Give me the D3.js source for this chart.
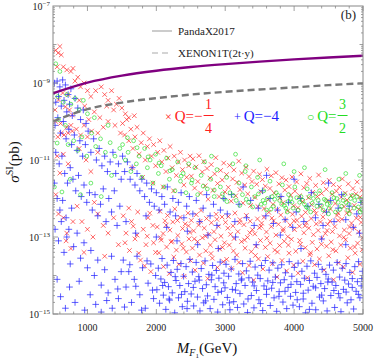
<!DOCTYPE html>
<html><head><meta charset="utf-8">
<script src="https://cdn.jsdelivr.net/npm/d3@7"></script>
<style>body{margin:0;background:#fff}svg{display:block}text{font-family:"Liberation Serif","DejaVu Serif",serif}</style>
</head><body><div id="chart"></div>
<script>
// ---------------- data ----------------
const xTicks = [1000,2000,3000,4000,5000];
const yTickExps = [-7,-9,-11,-13,-15];
const pandaMass  = [500,1000,1500,2000,2500,3000,3500,4000,4500,5000];
const pandaSigma = [5.4e-10,1.02e-9,1.55e-9,2.08e-9,2.6e-9,3.1e-9,3.6e-9,4.1e-9,4.6e-9,5.1e-9];
const xenonMass  = [500,1000,1500,2000,2500,3000,3500,4000,4500,5000];
const xenonSigma = [1.0e-10,2.1e-10,3.1e-10,4.05e-10,5.0e-10,5.9e-10,6.8e-10,7.7e-10,8.8e-10,9.8e-10];
const legendLabels = ["PandaX2017","XENON1T(2t·y)"];
// [mass GeV, log10 sigma(pb)]
const redPts = [
[540,-8.15],[575,-8.22],[620,-8.27],[600,-8.05],[650,-8.58],[700,-8.66],[760,-8.7],[790,-8.62],[820,-8.95],[860,-8.85],[560,-8.58],[640,-9.26],[580,-9.44],[530,-9.7],[680,-9.62],[740,-9.7],[780,-9.83],[720,-9.3],[900,-9.1],[950,-9.0],[1000,-9.2],[880,-9.45],[960,-9.6],[1050,-9.35],[1120,-9.2],[1200,-9.1],[1250,-9.3],[1300,-9.45],[1350,-9.2],[1420,-9.55],[1280,-9.6],[1380,-9.7],[1460,-9.4],[1500,-9.65],[1550,-9.8],[1600,-9.9],[1680,-9.85],[1100,-9.75],[1180,-9.9],[1020,-9.95],
[570,-10.4],[620,-10.3],[660,-10.35],[720,-10.3],[780,-10.25],[700,-10.15],[760,-10.1],[840,-10.2],[900,-10.35],[540,-10.0],[610,-10.05],[950,-10.1],[1000,-10.4],[1060,-10.25],[1150,-10.3],[1230,-10.15],[1300,-10.0],[1400,-10.1],[1480,-10.3],
[560,-10.9],[650,-10.85],[600,-11.34],[720,-11.1],[880,-10.7],[980,-11.0],[1050,-11.3],[1150,-10.8],
[580,-12.4],[650,-12.5],[790,-12.6],[700,-12.9],[760,-13.3],[690,-13.1],[540,-11.9],[850,-12.2],[920,-12.6],[1000,-12.8],[1080,-13.0],[1150,-12.4],[1230,-12.7],[1300,-12.9],[1380,-12.5],[1450,-13.2],[950,-13.4],[1250,-13.5],[1100,-12.1],
[1510,-10.05],[1540,-10.35],[1570,-9.95],[1600,-10.5],[1630,-10.2],[1660,-10.7],[1690,-10.4],[1720,-10.15],[1750,-10.85],[1780,-10.55],[1810,-10.3],[1840,-11.0],[1870,-10.65],[1900,-10.45],[1930,-10.9],[1960,-10.6],[1990,-11.15],[2020,-10.8],[2050,-10.5],[2080,-11.05],[2110,-10.75],[2140,-11.3],[2170,-10.95],[2200,-10.65],[2230,-11.2],[2260,-10.9],[2290,-11.4],[2320,-11.05],[2350,-10.8],[2380,-11.25],[2410,-11.0],[2440,-11.45],[2470,-11.15],[2490,-10.9],[1650,-11.2],[1800,-11.45],[1950,-11.6],[2100,-11.7],[2250,-11.8],[2400,-11.65],
[2508,-11.42],[2531,-10.97],[2556,-11.73],[2577,-11.18],[2602,-11.56],[2619,-10.89],[2643,-11.86],[2667,-11.31],[2688,-11.04],[2709,-11.67],[2736,-11.22],[2752,-12.02],[2778,-11.47],[2797,-11.12],[2821,-11.79],[2846,-11.36],[2863,-10.94],[2889,-11.61],[2911,-11.95],[2934,-11.27],[2956,-11.52],[2978,-11.08],[2997,-11.83],
[3019,-11.38],[3044,-11.71],[3062,-11.14],[3087,-12.07],[3108,-11.49],[3126,-11.26],[3153,-11.93],[3171,-11.58],[3196,-11.03],[3214,-11.77],[3239,-11.34],[3258,-12.12],[3283,-11.65],[3301,-11.19],[3327,-11.88],[3345,-11.43],[3369,-12.18],[3388,-11.56],[3412,-11.29],[3431,-11.97],[3457,-11.63],[3474,-12.21],[3498,-11.37],
[3517,-11.82],[3539,-11.51],[3564,-12.26],[3582,-11.68],[3606,-11.24],[3625,-12.03],[3649,-11.74],[3668,-11.41],[3693,-12.15],[3711,-11.86],[3736,-11.33],[3754,-12.29],[3779,-11.62],[3797,-11.99],[3822,-11.46],[3840,-12.11],[3865,-11.78],[3883,-11.52],[3908,-12.32],[3926,-11.69],[3951,-11.91],[3969,-11.44],[3994,-12.19],
[4012,-11.81],[4037,-11.57],[4055,-12.24],[4080,-11.93],[4098,-11.36],[4123,-12.08],[4141,-11.72],[4166,-12.36],[4184,-11.61],[4209,-11.98],[4227,-11.48],[4252,-12.16],[4270,-11.84],[4295,-12.31],[4313,-11.66],[4338,-11.95],[4356,-11.39],[4381,-12.22],[4399,-11.87],[4424,-11.59],[4442,-12.34],[4467,-11.76],[4485,-12.06],
[4510,-11.53],[4528,-12.27],[4553,-11.89],[4571,-11.64],[4596,-12.13],[4614,-11.81],[4639,-12.38],[4657,-11.71],[4682,-11.97],[4700,-11.49],[4725,-12.21],[4743,-11.86],[4768,-12.04],[4786,-11.62],[4811,-12.33],[4829,-11.93],[4854,-11.74],[4872,-12.18],[4897,-11.88],[4915,-11.57],[4940,-12.28],[4958,-11.96],[4983,-11.79],[4996,-12.11],
[1520,-12.45],[1560,-12.9],[1610,-13.35],[1640,-12.6],[1690,-13.05],[1730,-12.35],[1770,-13.6],[1810,-12.8],[1850,-13.2],[1880,-12.5],[1920,-13.9],[1950,-12.7],[1990,-13.4],[1600,-12.25],[1720,-12.95],[1830,-13.75],[1960,-13.15],
[1545,-13.15],[1665,-12.72],[1745,-13.42],[1868,-12.98],[1905,-12.38],
[2013,-12.74],[2037,-13.41],[2052,-12.33],[2071,-13.08],[2098,-12.91],[2104,-13.77],[2126,-12.58],[2149,-13.26],[2163,-12.44],[2188,-13.95],[2197,-12.82],[2215,-13.13],[2239,-12.61],[2254,-13.52],[2268,-12.27],[2291,-13.34],[2312,-12.96],[2327,-13.71],[2345,-12.49],[2369,-13.18],[2381,-12.78],[2402,-14.02],[2418,-12.66],[2436,-13.39],[2459,-12.38],[2473,-13.05],[2488,-12.88],[2496,-13.61],
[2507,-12.57],[2524,-13.29],[2541,-12.84],[2563,-13.86],[2579,-12.42],[2598,-13.12],[2614,-12.69],[2627,-13.47],[2649,-12.31],[2668,-13.02],[2683,-13.68],[2696,-12.77],[2718,-13.36],[2729,-12.52],[2747,-14.08],[2761,-12.93],[2784,-13.21],[2799,-12.63],[2813,-13.55],[2836,-12.86],[2852,-13.07],[2868,-12.41],[2887,-13.79],[2901,-12.72],[2919,-13.31],[2938,-12.98],[2954,-12.48],[2973,-13.64],[2989,-13.15],
[3004,-12.62],[3021,-13.58],[3046,-12.47],[3059,-13.21],[3077,-12.93],[3093,-13.82],[3112,-12.71],[3128,-13.04],[3141,-12.38],[3167,-13.47],[3183,-12.86],[3199,-13.66],[3214,-12.55],[3236,-13.12],[3251,-13.93],[3272,-12.68],[3288,-13.29],[3307,-12.44],[3323,-13.01],[3345,-13.74],[3362,-12.59],[3378,-13.38],[3394,-12.81],[3413,-14.12],[3429,-12.92],[3446,-13.24],[3468,-12.53],[3482,-13.57],[3497,-12.76],
[3511,-13.09],[3528,-12.64],[3547,-13.83],[3562,-12.49],[3583,-13.27],[3598,-12.87],[3617,-13.51],[3633,-12.36],[3652,-13.16],[3669,-12.73],[3684,-13.69],[3702,-12.58],[3719,-13.34],[3736,-12.95],[3751,-14.04],[3773,-12.67],[3789,-13.22],[3806,-12.43],[3824,-13.61],[3839,-12.84],[3857,-13.11],[3874,-12.56],[3891,-13.88],[3908,-12.99],[3926,-13.42],[3942,-12.69],[3961,-13.06],[3977,-12.41],[3993,-13.73],
[4006,-12.81],[4024,-13.37],[4041,-12.57],[4058,-13.94],[4076,-12.72],[4092,-13.19],[4109,-12.46],[4127,-13.63],[4143,-12.89],[4162,-13.28],[4178,-12.63],[4194,-14.06],[4213,-12.77],[4229,-13.46],[4247,-12.52],[4263,-13.14],[4281,-12.94],[4297,-13.72],[4316,-12.39],[4332,-13.31],[4349,-12.83],[4367,-13.57],[4384,-12.61],[4401,-13.03],[4418,-12.48],[4436,-13.86],[4453,-12.91],[4471,-13.24],[4488,-12.67],
[4503,-13.49],[4521,-12.59],[4538,-13.13],[4556,-12.86],[4573,-14.11],[4591,-12.73],[4607,-13.36],[4624,-12.44],[4642,-13.67],[4659,-12.97],[4677,-13.21],[4694,-12.54],[4712,-13.78],[4729,-12.82],[4747,-13.07],[4763,-12.38],[4781,-13.54],[4798,-12.91],[4816,-13.29],[4833,-12.64],[4851,-13.92],[4868,-12.76],[4886,-13.42],[4903,-12.51],[4921,-13.16],[4938,-12.87],[4956,-13.71],[4973,-12.62],[4989,-13.33],
[2061,-13.02],[2143,-12.69],[2226,-13.11],[2307,-12.57],[2392,-13.29],[2467,-12.71],[2551,-13.05],[2636,-12.59],[2712,-12.98],[2793,-13.43],[2879,-12.54],[2961,-13.27],[3038,-12.77],[3119,-13.36],[3206,-12.63],[3281,-13.08],[3357,-12.89],[3438,-13.48],[3521,-12.72],[3604,-13.03],[3677,-12.51],[3759,-13.39],[3843,-12.79],[3917,-13.21],[3998,-12.58],[4081,-13.09],[4158,-12.71],[4239,-13.41],[4321,-12.66],[4396,-13.19],[4479,-12.83],[4562,-13.33],[4639,-12.57],[4721,-13.01],[4804,-12.74],[4879,-13.26],[4961,-12.49],[4995,-13.02]
];
const bluePts = [
[520,-9.0],[560,-8.95],[600,-9.1],[640,-8.92],[680,-9.05],[720,-9.3],[760,-9.15],[540,-9.5],[580,-9.35],[620,-9.6],[660,-9.45],[700,-9.75],[740,-9.55],[780,-9.85],[820,-9.4],[860,-9.65],[900,-9.95],[940,-9.7],[980,-10.05],[530,-10.1],[570,-9.9],[610,-10.3],[650,-10.0],[690,-10.45],[730,-10.2],[770,-10.6],[810,-10.35],[850,-10.75],[890,-10.5],[930,-10.9],[970,-10.6],[1010,-10.25],[1050,-10.8],[1090,-10.45],[1130,-11.0],[1170,-10.7],[1210,-11.15],[1250,-10.9],[1290,-11.3],[1330,-11.05],[1370,-10.8],[1410,-11.35],[1450,-11.1],[1490,-11.5],
[540,-10.8],[590,-11.1],[630,-10.9],[670,-11.35],[710,-11.6],[750,-11.2],[790,-11.5],[830,-11.8],[870,-11.4],[910,-11.95],[950,-11.65],[990,-12.1],[1030,-11.85],[1070,-12.3],[1110,-11.9],[1150,-12.45],[1190,-12.15],[1230,-11.75],[1270,-12.6],[1310,-12.0],[1350,-12.35],[1390,-11.8],[1430,-12.7],[1470,-12.2],
[520,-11.6],[560,-12.0],[600,-12.3],[640,-12.05],[690,-12.5],[730,-12.8],[770,-12.25],[530,-12.8],[580,-13.1],[620,-12.6],[660,-13.4],[700,-13.0],[750,-13.7],[800,-13.25],[850,-12.9],[900,-13.55],[950,-13.15],[1000,-13.8],[1050,-13.35],[1100,-14.0],[1150,-13.6],[1200,-14.25],[1250,-13.85],[1300,-14.45],[1350,-13.5],[1400,-14.1],[1450,-14.6],[1490,-13.9],[560,-14.1],[610,-14.55],[680,-14.85],[740,-14.3],[820,-14.7],[880,-14.15],[960,-14.9],[1040,-14.5],[1120,-14.75],[1200,-14.95],[1280,-14.65],[1360,-14.85],[1440,-14.35],
[1510,-10.9],[1540,-11.3],[1580,-11.05],[1620,-11.5],[1650,-11.2],[1690,-11.65],[1720,-11.35],[1760,-11.8],[1790,-11.5],[1830,-11.95],[1860,-11.6],[1900,-12.1],[1930,-11.75],[1970,-12.2],[2000,-11.85],[2040,-12.3],[2080,-11.95],[2120,-12.15],[2160,-11.7],[2200,-12.35],[2240,-12.0],[2280,-12.45],[2320,-12.1],[2360,-11.85],[2400,-12.5],[2440,-12.2],[2480,-11.95],[2530,-12.4],[2580,-12.05],[2630,-12.6],[2680,-12.25],[2730,-11.9],[2780,-12.45],[2830,-12.15],[2880,-12.7],[2930,-12.3],[2980,-12.0],
[1560,-12.6],[1700,-12.9],[1850,-12.45],[2000,-13.0],[2150,-12.75],[2300,-13.1],[2450,-12.85],[2600,-13.2],[2750,-12.95],[2900,-13.3],
[3030,-12.4],[3090,-11.9],[3140,-12.6],[3200,-12.15],[3260,-11.7],[3310,-12.5],[3370,-12.05],[3420,-12.7],[3480,-12.25],[3540,-11.8],[3590,-12.45],[3650,-12.0],[3700,-12.65],[3760,-12.3],[3810,-11.95],[3870,-12.55],[3920,-12.1],[3980,-12.75],[4030,-12.35],[4090,-12.0],[4140,-12.6],[4200,-12.2],[4250,-11.85],[4310,-12.5],[4360,-12.15],[4420,-12.7],[4470,-12.35],[4530,-12.05],[4580,-12.6],[4640,-12.25],[4690,-11.9],[4750,-12.55],[4800,-12.2],[4860,-12.75],[4910,-12.4],[4970,-12.1],
[3150,-13.0],[3450,-13.2],[3800,-12.95],[4100,-13.3],[4400,-13.05],[4750,-13.2],[4950,-12.9],[3600,-11.4],[4000,-11.5],[4500,-11.6],
[1520,-13.6],[1560,-14.3],[1600,-13.9],[1640,-14.7],[1680,-14.1],[1720,-13.5],[1760,-14.5],[1800,-13.8],[1840,-14.85],[1880,-14.2],[1920,-13.7],[1960,-14.6],[1990,-14.0],
[1538,-14.82],[1615,-13.72],[1702,-14.28],[1785,-14.9],[1865,-13.62],[1945,-14.38],
[2008,-14.37],[2029,-13.81],[2047,-14.72],[2066,-14.09],[2083,-13.56],[2102,-14.51],[2121,-14.18],[2138,-14.88],[2157,-13.73],[2176,-14.29],[2193,-14.64],[2212,-13.92],[2231,-14.45],[2248,-13.61],[2267,-14.97],[2286,-14.13],[2303,-13.84],[2322,-14.58],[2341,-14.26],[2358,-13.69],[2377,-14.81],[2396,-14.02],[2413,-14.42],[2432,-13.77],[2451,-14.67],[2468,-14.21],[2487,-13.58],
[2506,-14.48],[2523,-13.91],[2542,-14.79],[2561,-14.15],[2578,-13.66],[2597,-14.56],[2616,-14.03],[2633,-14.92],[2652,-13.82],[2671,-14.34],[2688,-14.71],[2707,-13.62],[2726,-14.24],[2743,-14.53],[2762,-13.97],[2781,-14.86],[2798,-14.11],[2817,-13.74],[2836,-14.62],[2853,-14.29],[2872,-13.87],[2891,-14.95],[2908,-14.07],[2927,-13.65],[2946,-14.41],[2963,-14.76],[2982,-13.94],[2997,-14.32],
[3012,-13.71],[3031,-14.57],[3049,-14.02],[3068,-14.89],[3087,-13.83],[3104,-14.36],[3123,-14.68],[3142,-13.58],[3159,-14.21],[3178,-14.83],[3197,-13.96],[3214,-14.47],[3233,-14.12],[3252,-13.69],[3269,-14.74],[3288,-14.26],[3307,-13.88],[3324,-14.96],[3343,-14.06],[3362,-13.63],[3379,-14.52],[3398,-14.17],[3417,-14.84],[3434,-13.78],[3453,-14.39],[3472,-13.99],[3489,-14.63],
[3508,-14.08],[3527,-13.74],[3544,-14.91],[3563,-14.27],[3582,-13.61],[3599,-14.49],[3618,-14.14],[3637,-13.86],[3654,-14.78],[3673,-14.33],[3692,-13.67],[3709,-14.58],[3728,-14.04],[3747,-14.93],[3764,-13.81],[3783,-14.42],[3802,-14.19],[3819,-13.72],[3838,-14.69],[3857,-14.11],[3874,-13.93],[3893,-14.86],[3912,-14.31],[3929,-13.64],[3948,-14.54],[3967,-14.02],[3984,-14.77],
[4003,-13.79],[4022,-14.44],[4039,-14.16],[4058,-13.68],[4077,-14.81],[4094,-14.23],[4113,-13.89],[4132,-14.61],[4149,-14.07],[4168,-14.97],[4187,-13.76],[4204,-14.38],[4223,-14.13],[4242,-13.62],[4259,-14.72],[4278,-14.28],[4297,-13.94],[4314,-14.89],[4333,-14.05],[4352,-13.71],[4369,-14.56],[4388,-14.21],[4407,-13.84],[4424,-14.66],[4443,-14.34],[4462,-13.97],[4479,-14.92],[4496,-14.09],
[4514,-13.73],[4533,-14.52],[4551,-14.17],[4570,-13.86],[4589,-14.83],[4606,-14.26],[4625,-13.66],[4644,-14.47],[4661,-14.04],[4680,-14.94],[4699,-13.81],[4716,-14.36],[4735,-14.12],[4754,-13.69],[4771,-14.71],[4790,-14.22],[4809,-13.92],[4826,-14.63],[4845,-14.08],[4864,-14.87],[4881,-13.77],[4900,-14.41],[4919,-14.16],[4936,-13.64],[4955,-14.58],[4974,-14.27],[4991,-13.89],
[2092,-14.26],[2185,-14.61],[2274,-14.03],[2365,-14.49],[2446,-14.86],[2537,-14.31],[2623,-14.12],[2715,-14.66],[2806,-13.99],[2894,-14.44],[2978,-14.19],[3061,-14.71],[3150,-14.38],[3240,-14.09],[3331,-14.61],[3420,-14.27],[3511,-14.73],[3600,-14.36],[3690,-14.18],[3780,-14.54],[3868,-14.41],[3955,-14.23],[4045,-14.63],[4133,-14.46],[4222,-14.88],[4312,-14.32],[4400,-14.51],[4489,-14.17],[4577,-14.39],[4666,-14.58],[4755,-14.43],[4844,-14.31],[4933,-14.49],[4982,-14.08]
];
const greenPts = [
[540,-8.5],[600,-8.7],[570,-9.35],[650,-9.5],[700,-9.3],[760,-9.55],[820,-9.4],[880,-9.7],[940,-9.45],[1000,-9.8],[560,-10.56],[720,-10.6],[800,-10.5],[860,-10.75],[920,-10.4],[990,-10.9],[1060,-10.3],[1120,-10.65],[1190,-10.45],[1260,-10.8],[1330,-10.55],[1400,-10.9],[1470,-10.7],[520,-11.7],[630,-11.83],[750,-11.5],[900,-11.9],[1050,-11.6],[1200,-11.95],[1350,-11.4],[580,-9.95],[680,-10.1],[1100,-9.9],[1300,-10.1],
[1510,-10.6],[1550,-11.0],[1590,-10.8],[1630,-11.3],[1670,-10.5],[1710,-11.1],[1750,-10.9],[1790,-11.45],[1830,-10.7],[1870,-11.2],[1910,-11.0],[1950,-11.6],[1990,-10.85],[2030,-11.35],[2070,-11.15],[2110,-11.7],[2150,-10.95],[2190,-11.5],[2230,-11.25],[2270,-11.8],[2310,-11.05],[2350,-11.55],[2390,-11.35],[2430,-11.85],[2470,-11.1],
[2510,-11.6],[2560,-11.2],[2600,-11.9],[2650,-11.4],[2700,-11.05],[2740,-11.75],[2790,-11.5],[2840,-11.95],[2880,-11.25],[2930,-11.7],[2980,-12.0],[3020,-11.45],[3070,-11.85],[3110,-11.1],[3160,-12.05],[3200,-11.6],[3250,-11.9],[3290,-11.3],[3340,-12.1],[3380,-11.7],[3430,-11.95],[3470,-11.45],[3520,-12.15],[3560,-11.8],[3610,-12.0],[3650,-11.55],[3700,-12.2],[3740,-11.85],[3790,-12.05],[3830,-11.65],[3880,-12.25],[3920,-11.9],[3970,-12.1],[4010,-11.7],[4060,-12.3],[4100,-11.95],[4150,-12.15],[4190,-11.75],[4240,-12.35],[4280,-12.0],[4330,-12.2],[4370,-11.8],[4420,-12.3],[4460,-12.05],[4510,-12.25],[4550,-11.85],[4600,-12.35],[4640,-12.1],[4690,-12.2],[4730,-11.9],[4780,-12.3],[4820,-12.0],[4870,-12.25],[4910,-11.95],[4960,-12.35],[4990,-12.1],
[3550,-12.05],[3680,-11.95],[3820,-12.15],[3950,-12.0],[4080,-12.1],[4220,-11.95],[4350,-12.05],[4480,-12.15],[4620,-12.0],[4750,-12.1],[4880,-12.05],[3600,-12.3],[3900,-12.35],[4200,-12.25],[4500,-12.4],[4800,-12.4],
[2800,-10.9],[3150,-10.85],[3500,-11.0],[3850,-11.1],[4150,-11.2],[4450,-11.25],[4750,-11.35],[4950,-11.4],[3300,-11.15],[4000,-11.3],[4650,-11.5],
[3025,-12.08],[3118,-11.92],[3212,-12.18],[3305,-12.02],[3398,-12.22],[3482,-11.88],[3575,-12.12],[3662,-12.28],[3718,-12.02],[3765,-11.92],[3858,-12.18],[3912,-12.08],[3985,-12.25],[4038,-11.98],[4125,-12.05],[4178,-12.22],[4265,-12.12],[4312,-11.88],[4398,-12.18],[4438,-12.02],[4525,-12.12],[4578,-11.98],[4665,-12.28],[4712,-12.05],[4798,-12.15],[4845,-11.92],[4932,-12.22],[4975,-12.02],[4988,-12.3],
[1580,-10.42],[1720,-10.68],[1880,-10.92],[2040,-11.08],[2200,-11.28],[2360,-11.42],[2520,-11.52],[2680,-11.68],[2840,-11.78],[2960,-11.88]
];

// ---------------- chart ----------------
const W = 374, H = 362;
const L = 53, R = 363, T = 6, B = 314;
const svg = d3.select("#chart").append("svg").attr("width", W).attr("height", H);
const x = d3.scaleLinear().domain([500,5000]).range([L,R]);
const y = d3.scaleLog().domain([1e-15,1e-7]).range([B,T]);

svg.append("defs").append("clipPath").attr("id","clip")
  .append("rect").attr("x",L).attr("y",T).attr("width",R-L).attr("height",B-T);
const plot = svg.append("g").attr("clip-path","url(#clip)");

// red x
plot.append("g").selectAll("path").data(redPts).join("path")
  .attr("d", d => { const px=x(d[0]), py=y(Math.pow(10,d[1])), s=2.3;
     return `M${px-s},${py-s}L${px+s},${py+s}M${px-s},${py+s}L${px+s},${py-s}`; })
  .attr("stroke","#ff2020").attr("stroke-width",0.9).attr("stroke-opacity",0.75).attr("fill","none");
// blue +
plot.append("g").selectAll("path").data(bluePts).join("path")
  .attr("d", d => { const px=x(d[0]), py=y(Math.pow(10,d[1])), s=3.3;
     return `M${px-s},${py}L${px+s},${py}M${px},${py-s}L${px},${py+s}`; })
  .attr("stroke","#2a2aff").attr("stroke-width",1).attr("stroke-opacity",0.75).attr("fill","none");
// green circles
plot.append("g").selectAll("circle").data(greenPts).join("circle")
  .attr("cx", d => x(d[0])).attr("cy", d => y(Math.pow(10,d[1]))).attr("r",1.9)
  .attr("stroke","#22dd22").attr("stroke-width",0.8).attr("stroke-opacity",0.8).attr("fill","none");

// limit curves
const line = d3.line().x(d=>x(d[0])).y(d=>y(d[1])).curve(d3.curveMonotoneX);
plot.append("path").datum(pandaMass.map((m,i)=>[m,pandaSigma[i]]))
  .attr("d",line).attr("fill","none").attr("stroke","#800080").attr("stroke-width",2.4);
plot.append("path").datum(xenonMass.map((m,i)=>[m,xenonSigma[i]]))
  .attr("d",line).attr("fill","none").attr("stroke","#777").attr("stroke-width",2.4)
  .attr("stroke-dasharray","7,4");

// frame & ticks
const axC = "#888";
svg.append("rect").attr("x",L).attr("y",T).attr("width",R-L).attr("height",B-T)
  .attr("fill","none").attr("stroke",axC).attr("stroke-width",1);
const tg = svg.append("g").attr("stroke",axC).attr("stroke-width",0.8);
for (let m=600; m<=5000; m+=200) {
  const major = m % 1000 === 0, len = major ? 5 : 2.5, px = x(m);
  tg.append("line").attr("x1",px).attr("x2",px).attr("y1",B).attr("y2",B-len);
  tg.append("line").attr("x1",px).attr("x2",px).attr("y1",T).attr("y2",T+len);
}
for (let e=-15; e<-7; e++) {
  for (let k=1; k<=9; k++) {
    const v = k*Math.pow(10,e); const py = y(v);
    const len = k===1 ? (e%2 ? 5 : 3.5) : 2;
    if (py < T || py > B) continue;
    tg.append("line").attr("x1",L).attr("x2",L+len).attr("y1",py).attr("y2",py);
    tg.append("line").attr("x1",R).attr("x2",R-len).attr("y1",py).attr("y2",py);
  }
}
// tick labels
svg.append("g").selectAll("text").data(xTicks).join("text")
  .attr("x",d=>x(d)).attr("y",331).attr("text-anchor","middle")
  .attr("font-size",10).attr("fill","#222").text(d=>d);
const yl = svg.append("g").selectAll("text").data(yTickExps).join("text")
  .attr("x",50).attr("y",d=>y(Math.pow(10,d))+4).attr("text-anchor","end")
  .attr("font-size",10).attr("fill","#222");
yl.append("tspan").text("10");
yl.append("tspan").attr("dy",-4).attr("font-size",7).text(d=>"−"+Math.abs(d));

// axis labels
const ylab = svg.append("text").attr("transform","translate(19,162) rotate(-90)")
  .attr("text-anchor","middle").attr("font-size",15).attr("fill","#111");
ylab.append("tspan").attr("font-style","italic").text("σ");
ylab.append("tspan").attr("dy",-6).attr("font-size",10).text("SI");
ylab.append("tspan").attr("dy",6).text("(pb)");
const xlab = svg.append("text").attr("x",207).attr("y",353).attr("text-anchor","middle")
  .attr("font-size",15).attr("fill","#111");
xlab.append("tspan").attr("font-style","italic").text("M");
xlab.append("tspan").attr("dy",3).attr("font-size",10).attr("font-style","italic").text("F");
xlab.append("tspan").attr("dy",1.5).attr("font-size",7).text("1");
xlab.append("tspan").attr("dy",-4.5).text("(GeV)");

// legend
svg.append("line").attr("x1",152).attr("x2",172).attr("y1",31).attr("y2",31)
  .attr("stroke","#999").attr("stroke-width",1);
svg.append("line").attr("x1",152).attr("x2",172).attr("y1",53).attr("y2",53)
  .attr("stroke","#aaa").attr("stroke-width",1.2).attr("stroke-dasharray","6,4");
svg.append("text").attr("x",178).attr("y",35).attr("font-size",11).attr("fill","#222").text(legendLabels[0]);
svg.append("text").attr("x",178).attr("y",57).attr("font-size",11).attr("fill","#222").text(legendLabels[1]);
svg.append("text").attr("x",356).attr("y",19).attr("text-anchor","end").attr("font-size",13).attr("fill","#222").text("(b)");

// Q annotations
function qLabel(xs, color, marker, pre, num, den) {
  const g = svg.append("g").attr("fill",color);
  const t = g.append("text").attr("x",xs).attr("y",121).attr("font-size",15);
  t.append("tspan").attr("font-size",12).text(marker+" ");
  t.append("tspan").text(pre);
  if (num) {
    const w = t.node().getComputedTextLength();
    const cx = xs + w + 6;
    g.append("text").attr("x",cx).attr("y",109).attr("text-anchor","middle").attr("font-size",14).text(num);
    g.append("text").attr("x",cx).attr("y",133).attr("text-anchor","middle").attr("font-size",14).text(den);
    g.append("line").attr("x1",cx-5).attr("x2",cx+5).attr("y1",115.5).attr("y2",115.5)
      .attr("stroke",color).attr("stroke-width",1);
  }
}
qLabel(165, "#ff2020", "×", "Q=−", "1", "4");
qLabel(234, "#2020ff", "+", "Q=−4", null, null);
qLabel(307, "#22dd22", "○", "Q=", "3", "2");
</script></body></html>
